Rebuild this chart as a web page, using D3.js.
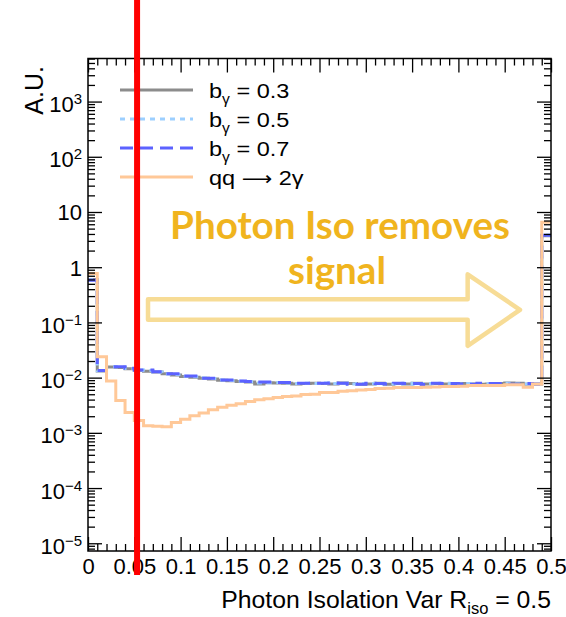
<!DOCTYPE html>
<html>
<head>
<meta charset="utf-8">
<script src="https://cdn.jsdelivr.net/npm/d3@7"></script>
<style>
body { margin: 0; background: #fff; }
text { font-family: "Liberation Sans", Arial, Helvetica, sans-serif; fill: #000; }
</style>
</head>
<body>
<div id="chart"></div>
<script>
/// Histogram contents, one value per 0.01 bin from 0 to 0.5 ///
var binWidth = 0.01;
var binLow = d3.range(0, 50).map(i => +(i * binWidth).toFixed(2));

var grayVals = [0.60, 0.0132, 0.0155, 0.0152, 0.0145, 0.0134, 0.0131, 0.0126, 0.0118, 0.0112,
  0.0105, 0.0102, 0.0097, 0.0094, 0.0090, 0.0088, 0.0085, 0.0083, 0.0077, 0.0081,
  0.0080, 0.0079, 0.0077, 0.0078, 0.0079, 0.0078, 0.0077, 0.0080, 0.0078, 0.0076,
  0.0077, 0.0079, 0.0076, 0.0078, 0.0077, 0.0079, 0.0077, 0.0078, 0.0077, 0.0076,
  0.0078, 0.0077, 0.0076, 0.0077, 0.0078, 0.0080, 0.0079, 0.0076, 0.0077, 3.7];

var lightBlueVals = [0.59, 0.0133, 0.0157, 0.0156, 0.0147, 0.0137, 0.0135, 0.0127, 0.0116, 0.0114,
  0.0106, 0.0104, 0.0098, 0.0096, 0.0091, 0.0089, 0.0086, 0.0084, 0.0080, 0.0081,
  0.0082, 0.0080, 0.0078, 0.0079, 0.0078, 0.0080, 0.0078, 0.0079, 0.0077, 0.0078,
  0.0078, 0.0077, 0.0078, 0.0077, 0.0079, 0.0076, 0.0078, 0.0077, 0.0079, 0.0077,
  0.0077, 0.0078, 0.0077, 0.0078, 0.0077, 0.0079, 0.0077, 0.0077, 0.0078, 3.8];

var blueVals = [0.58, 0.0134, 0.0158, 0.0158, 0.0148, 0.0138, 0.0138, 0.0128, 0.0117, 0.0117,
  0.0107, 0.0107, 0.00975, 0.00975, 0.0091, 0.0091, 0.0087, 0.0085, 0.0083, 0.0083,
  0.0082, 0.0082, 0.0079, 0.0079, 0.0079, 0.0079, 0.0080, 0.0079, 0.0076, 0.0076,
  0.0079, 0.0078, 0.0077, 0.0079, 0.0078, 0.0078, 0.0075, 0.0079, 0.0078, 0.0078,
  0.0077, 0.0076, 0.0079, 0.0078, 0.0078, 0.0076, 0.0076, 0.0078, 0.0077, 3.8];

var orangeVals = [0.77, 0.0239, 0.0087, 0.00385, 0.00233, 0.00168, 0.00134, 0.00132, 0.00129, 0.00154,
  0.00177, 0.00204, 0.00228, 0.00261, 0.00292, 0.00315, 0.00335, 0.00369, 0.00396, 0.00413,
  0.00436, 0.00454, 0.00467, 0.00493, 0.00500, 0.00536, 0.0054, 0.00569, 0.0058, 0.0060,
  0.0061, 0.00633, 0.0064, 0.00666, 0.0066, 0.0066, 0.0067, 0.0068, 0.00689, 0.0069,
  0.0070, 0.00717, 0.0072, 0.0072, 0.0072, 0.0074, 0.0074, 0.0067, 0.00769, 6.5];

/// Legend entries ///
var legendSym = ["b", "b", "b", "qq "];
var legendSub = ["\u03b3", "\u03b3", "\u03b3", ""];
var legendRest = [" = 0.3", " = 0.5", " = 0.7", " 2\u03b3"];

/// Tick labels ///
var xTickValues = [0, 0.05, 0.1, 0.15, 0.2, 0.25, 0.3, 0.35, 0.4, 0.45, 0.5];
var xTickLabels = ["0", "0.05", "0.1", "0.15", "0.2", "0.25", "0.3", "0.35", "0.4", "0.45", "0.5"];
var yTickValues = [1e-5, 1e-4, 1e-3, 1e-2, 1e-1, 1, 10, 100, 1000];
var yTickBase = ["10", "10", "10", "10", "10", "1", "10", "10", "10"];
var yTickExp = ["\u22125", "\u22124", "\u22123", "\u22122", "\u22121", "", "", "2", "3"];

/// Cut line and annotation ///
var cutValue = 0.053;
var noteLines = ["Photon Iso removes", "signal"];

/// SVG area ///
var svgWidth = 566;
var svgHeight = 617;
var margin = { top: 58.5, right: 15, bottom: 66, left: 88 };
var width = svgWidth - margin.left - margin.right;
var height = svgHeight - margin.top - margin.bottom;

var svg = d3.select("#chart").append("svg")
  .attr("width", svgWidth)
  .attr("height", svgHeight);

var g = svg.append("g")
  .attr("transform", `translate(${margin.left}, ${margin.top})`);

var x = d3.scaleLinear().domain([0, 0.5]).range([0, width]);
var y = d3.scaleLog().domain([Math.pow(10, -5.14), Math.pow(10, 3.78)]).range([height, 0]);

svg.append("defs").append("clipPath").attr("id", "frameClip")
  .append("rect").attr("width", width).attr("height", height);

/// Histograms ///
var histLine = d3.line()
  .x(d => x(d[0]))
  .y(d => y(d[1]))
  .curve(d3.curveStepAfter);

function histPoints(vals) {
  var pts = binLow.map((b, i) => [b, vals[i]]);
  pts.push([0.5, vals[vals.length - 1]]);
  return pts;
}

var series = [
  { vals: grayVals, color: "#8c8c8c", dash: null },
  { vals: lightBlueVals, color: "#9ccfff", dash: "5,5" },
  { vals: blueVals, color: "#5c62ff", dash: "13,7" },
  { vals: orangeVals, color: "#ffc898", dash: null }
];

var histGroup = g.append("g").attr("clip-path", "url(#frameClip)");
series.forEach(function (s) {
  histGroup.append("path")
    .attr("d", histLine(histPoints(s.vals)))
    .attr("fill", "none")
    .attr("stroke", s.color)
    .attr("stroke-width", 3)
    .attr("stroke-dasharray", s.dash);
});

/// Minor ticks ///
var xMinor = d3.range(1, 50).map(i => i / 100).filter(v => Math.round(v * 100) % 5 !== 0);
var yMinor = [];
for (var e = -6; e <= 3; e++) {
  for (var k = 2; k <= 9; k++) {
    var v = k * Math.pow(10, e);
    if (v > y.domain()[0] && v < y.domain()[1]) yMinor.push(v);
  }
}

function styleAxis(sel) {
  sel.select(".domain").remove();
  sel.selectAll(".tick line").attr("stroke", "#000").attr("stroke-width", 1.3);
}

// bottom axis with labels
g.append("g").attr("transform", `translate(0, ${height})`)
  .call(d3.axisBottom(x).tickValues(xTickValues).tickSizeInner(-14).tickSizeOuter(0).tickPadding(7)
    .tickFormat((d, i) => xTickLabels[i]))
  .call(styleAxis)
  .call(a => a.selectAll("text").attr("font-size", 22));
g.append("g").attr("transform", `translate(0, ${height})`)
  .call(d3.axisBottom(x).tickValues(xMinor).tickSizeInner(-7).tickSizeOuter(0).tickFormat(""))
  .call(styleAxis);

// top mirror axis
g.append("g")
  .call(d3.axisTop(x).tickValues(xTickValues).tickSizeInner(-14).tickSizeOuter(0).tickFormat(""))
  .call(styleAxis);
g.append("g")
  .call(d3.axisTop(x).tickValues(xMinor).tickSizeInner(-7).tickSizeOuter(0).tickFormat(""))
  .call(styleAxis);

// left axis with labels
g.append("g")
  .call(d3.axisLeft(y).tickValues(yTickValues).tickSizeInner(-14).tickSizeOuter(0).tickPadding(6)
    .tickFormat((d, i) => yTickBase[i]))
  .call(styleAxis)
  .call(function (a) {
    a.selectAll(".tick text").each(function (d) {
      var t = d3.select(this).attr("font-size", 22);
      var exp = yTickExp[yTickValues.indexOf(d)];
      if (exp) {
        t.attr("dy", null).attr("y", 10);
        t.append("tspan").attr("font-size", 15).attr("dy", -8).text(exp);
      } else {
        t.attr("dy", null).attr("y", 8);
      }
    });
  });
g.append("g")
  .call(d3.axisLeft(y).tickValues(yMinor).tickSizeInner(-7).tickSizeOuter(0).tickFormat(""))
  .call(styleAxis);

// right mirror axis
g.append("g").attr("transform", `translate(${width}, 0)`)
  .call(d3.axisRight(y).tickValues(yTickValues).tickSizeInner(-14).tickSizeOuter(0).tickFormat(""))
  .call(styleAxis);
g.append("g").attr("transform", `translate(${width}, 0)`)
  .call(d3.axisRight(y).tickValues(yMinor).tickSizeInner(-7).tickSizeOuter(0).tickFormat(""))
  .call(styleAxis);

// frame
g.append("rect")
  .attr("width", width).attr("height", height)
  .attr("fill", "none").attr("stroke", "#000").attr("stroke-width", 1.5);

/// Axis titles ///
var xTitle = g.append("text")
  .attr("text-anchor", "end")
  .attr("font-size", 24);
xTitle.append("tspan").text("Photon Isolation Var R");
xTitle.append("tspan").attr("font-size", 16).attr("dy", 6).text("iso");
xTitle.append("tspan").attr("dy", -6).text(" = 0.5");
var xTitleScale = 330 / xTitle.node().getComputedTextLength();
xTitle.attr("transform", `translate(${width}, ${height + 57}) scale(${xTitleScale}, 1)`);

g.append("text")
  .attr("transform", "rotate(-90)")
  .attr("x", -(66 - margin.top))
  .attr("y", 43 - margin.left)
  .attr("text-anchor", "end")
  .attr("font-size", 25)
  .text("A.U.");

/// Legend ///
var legend = g.append("g").attr("transform", "translate(32, 31.5)");
series.forEach(function (s, i) {
  var row = legend.append("g").attr("transform", `translate(0, ${i * 29})`);
  row.append("line")
    .attr("x1", 0).attr("x2", 73)
    .attr("stroke", s.color).attr("stroke-width", 3)
    .attr("stroke-dasharray", s.dash);
  var t = row.append("text")
    .attr("transform", "translate(89, 7.5) scale(1.12, 1)")
    .attr("font-size", 21);
  t.append("tspan").text(legendSym[i]);
  if (legendSub[i]) {
    t.append("tspan").attr("font-size", 14).attr("dy", 6).text(legendSub[i]);
    t.append("tspan").attr("dy", -6).text(legendRest[i]);
  } else {
    t.append("tspan").style("font-family", "'DejaVu Sans'").attr("font-size", 19).text("\u27f6");
    t.append("tspan").text(legendRest[i]);
  }
});

/// Annotation arrow and text ///
var noteColor = "#f0b41e";
var arrowPts = [
  [0.0648, -0.579], [0.410, -0.579], [0.410, -0.128], [0.4665, -0.773],
  [0.410, -1.423], [0.410, -0.953], [0.0648, -0.953]
];
g.append("polygon")
  .attr("points", arrowPts.map(p => [x(p[0]), y(Math.pow(10, p[1]))].join(",")).join(" "))
  .attr("fill", "none")
  .attr("stroke", "#f7dc96")
  .attr("stroke-width", 4.5)
  .attr("stroke-linejoin", "round");

var note1 = g.append("text")
  .attr("x", 340 - margin.left).attr("y", 238.5 - margin.top)
  .attr("text-anchor", "middle")
  .style("font-family", "Lato, 'Open Sans', sans-serif")
  .style("font-weight", 700)
  .style("fill", noteColor)
  .attr("font-size", 37)
  .text(noteLines[0]);
var fitSize = 37 * 340 / note1.node().getComputedTextLength();
note1.attr("font-size", fitSize);
g.append("text")
  .attr("x", 337 - margin.left).attr("y", 284 - margin.top)
  .attr("text-anchor", "middle")
  .style("font-family", "Lato, 'Open Sans', sans-serif")
  .style("font-weight", 700)
  .style("fill", noteColor)
  .attr("font-size", fitSize)
  .text(noteLines[1]);

/// Cut line ///
g.append("line")
  .attr("x1", x(cutValue)).attr("x2", x(cutValue))
  .attr("y1", -margin.top).attr("y2", 575 - margin.top)
  .attr("stroke", "#ff0000")
  .attr("stroke-width", 6);
</script>
</body>
</html>
